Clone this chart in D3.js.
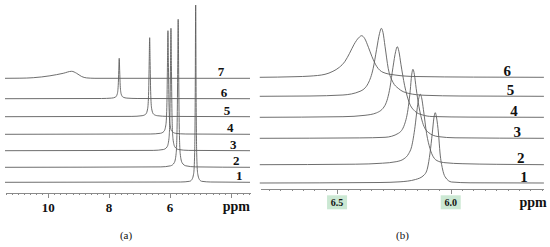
<!DOCTYPE html>
<html>
<head>
<meta charset="utf-8">
<script src="https://cdnjs.cloudflare.com/ajax/libs/d3/7.8.5/d3.min.js"></script>
<style>
body{margin:0;background:#fff;}
svg{display:block;}
.trace{fill:none;stroke:#5e5e5e;stroke-width:0.9;}
.axis path,.axis line{stroke:#8a8a8a;stroke-width:1;shape-rendering:crispEdges;}
text{font-family:"Liberation Serif","Times New Roman",Times,serif;fill:#111;}
.num{font-weight:bold;}
</style>
</head>
<body>
<div id="chart"></div>
<script>
// panel (a): [ppm, intensity a.u.], samples 1..7
var labelsA=['1','2','3','4','5','6','7'];
var offsetsA=[0,15,31.6,48,65.6,83.6,104];
var spec1A=[[11.42,0],[5.65,0.3],[5.355,1],[5.285,2.5],[5.22,9],[5.188,30],[5.17,85],[5.155,177.3],[5.14,85],[5.122,30],[5.09,9],[5.025,2.5],[4.955,1],[4.66,0.3],[3.37,0]];
var spec2A=[[11.42,0],[6.3,0.4],[5.98,1.5],[5.86,4.5],[5.796,14],[5.763,45],[5.745,100],[5.73,148],[5.715,100],[5.697,45],[5.664,14],[5.6,4.5],[5.48,1.5],[5.16,0.4],[3.37,0]];
var spec3A=[[11.42,0],[6.55,0.3],[6.217,1.2],[6.097,3.7],[6.033,12],[6.0,38],[5.982,85],[5.967,122.4],[5.952,85],[5.934,38],[5.901,12],[5.837,3.7],[5.717,1.2],[5.38,0.3],[3.37,0]];
var spec4A=[[11.42,0],[6.65,0.3],[6.316,1],[6.196,3],[6.132,10],[6.099,32],[6.081,72],[6.066,103.6],[6.051,72],[6.033,32],[6.0,10],[5.936,3],[5.816,1],[5.48,0.3],[3.37,0]];
var spec5A=[[11.42,0],[7.25,0.3],[6.917,1],[6.797,2.5],[6.733,8],[6.7,25],[6.682,55],[6.667,79],[6.652,55],[6.634,25],[6.601,8],[6.537,2.5],[6.417,1],[6.08,0.3],[3.37,0]];
var spec6A=[[11.42,0],[8.25,0.2],[7.917,0.6],[7.797,1.5],[7.733,4.5],[7.7,13],[7.682,28],[7.667,40.4],[7.652,28],[7.634,13],[7.601,4.5],[7.537,1.5],[7.417,0.6],[7.08,0.2],[3.37,0]];
var spec7A=[[11.42,0],[10.93,0.1],[10.49,0.6],[9.944,2.5],[9.507,5],[9.231,7],[9.067,5],[8.902,1.8],[8.738,0.4],[8.465,0],[3.37,0]];
var majorTicksA=[10,8,6,4];
var tickLabelsA=['10','8','6'];

// panel (b): zoom on the 5.6 - 6.8 ppm region, samples 1..6
var labelsB=['1','2','3','4','5','6'];
var offsetsB=[0,18.3,44.7,65.7,86.7,105.7];
var spec1B=[[6.84,0],[6.311,0.5],[6.223,1.2],[6.155,3.5],[6.117,8],[6.102,15],[6.091,30],[6.081,50],[6.074,65],[6.068,70.3],[6.062,65],[6.054,50],[6.047,30],[6.036,14],[6.025,6.3],[5.996,1],[5.915,0.2],[5.59,0]];
var spec2B=[[6.84,0],[6.42,0.5],[6.30,1.5],[6.24,3],[6.205,6],[6.185,11],[6.172,18],[6.157,38],[6.147,57],[6.140,67],[6.134,70.4],[6.128,67],[6.120,55],[6.106,31],[6.091,16],[6.077,8],[6.055,3.5],[6.025,2],[5.95,1],[5.80,0.4],[5.59,0]];
var spec3B=[[6.84,0],[6.40,0.4],[6.289,1],[6.230,5],[6.203,14],[6.186,32],[6.178,48],[6.172,63],[6.166,69],[6.160,64],[6.152,50],[6.140,32],[6.124,16],[6.099,6],[6.055,1.7],[5.981,0.5],[5.59,0]];
var spec4B=[[6.84,0],[6.474,0.6],[6.377,2],[6.326,4.5],[6.289,12],[6.267,30],[6.254,50],[6.242,66],[6.235,70.6],[6.228,66],[6.219,53],[6.203,32],[6.183,15],[6.157,6],[6.126,2.5],[6.082,0.8],[5.915,0.2],[5.59,0]];
var spec5B=[[6.84,0],[6.619,0.3],[6.474,1.3],[6.399,5],[6.363,13],[6.341,28],[6.326,47],[6.313,63],[6.305,68],[6.298,64],[6.289,50],[6.275,28],[6.254,14],[6.231,8],[6.187,3],[6.113,1],[5.959,0.3],[5.59,0]];
var spec6B=[[6.84,0],[6.685,0.6],[6.619,1.2],[6.553,3],[6.518,6],[6.490,10],[6.465,16],[6.445,24],[6.425,33],[6.405,39.5],[6.392,41.6],[6.379,39],[6.362,30],[6.347,21],[6.326,11],[6.298,5],[6.245,2.3],[6.157,0.8],[5.9,0.2],[5.59,0]];
var majorTicksB=[6.5,6.0];
var tickLabelsB=['6.5','6.0'];

Spectra=function(_svg,_cfg){
    this.svg=_svg;
    this.cfg=_cfg;
    this.initVis();
};

Spectra.prototype.initVis=function(){
    var vis=this, c=vis.cfg;

    vis.x=d3.scaleLinear()
        .domain(c.ppmRange)
        .range([c.left,c.right]);
    vis.y=d3.scaleLinear()
        .domain([0,180])
        .range([c.base,c.base-180]);

    vis.g=vis.svg.append('g');

    vis.line=d3.line()
        .curve(d3.curveMonotoneX);

    // traces
    c.spectra.forEach(function(s,i){
        var off=c.offsets[i];
        vis.g.append('path')
            .attr('class','trace')
            .attr('d',vis.line.x(function(d){return vis.x(d[0]);})
                              .y(function(d){return vis.y(d[1]+off);})(s));
    });

    // sample numbers on the right end of each trace
    vis.g.selectAll('.lab')
        .data(c.labels)
        .enter()
        .append('text')
        .attr('class','lab num')
        .attr('x',function(d,i){return c.labX-i*c.labStep;})
        .attr('y',function(d,i){return vis.y(c.offsets[i])-c.labLift;})
        .attr('text-anchor','middle')
        .style('font-size',c.labSize+'px')
        .text(function(d){return d;});

    // axis: minor ticks, then major ticks
    var lo=Math.min(c.ppmRange[0],c.ppmRange[1]), hi=Math.max(c.ppmRange[0],c.ppmRange[1]);
    var minor=d3.range(Math.ceil(lo/c.minorStep)*c.minorStep,hi,c.minorStep);
    vis.g.append('g')
        .attr('class','axis')
        .attr('transform','translate(0,'+c.axisY+')')
        .call(d3.axisBottom(vis.x).tickValues(minor).tickSize(2).tickSizeOuter(0).tickFormat(''));
    vis.g.append('g')
        .attr('class','axis')
        .attr('transform','translate(0,'+c.axisY+')')
        .call(d3.axisBottom(vis.x).tickValues(c.majorTicks).tickSize(5).tickSizeOuter(0).tickFormat(''))
        .select('.domain').remove();

    // highlight boxes (panel b)
    if(c.boxes){
        vis.g.selectAll('.hl')
            .data(c.tickLabels)
            .enter()
            .append('rect')
            .attr('class','hl')
            .attr('x',function(d){return vis.x(+d)-10;})
            .attr('y',c.axisY+6)
            .attr('width',20)
            .attr('height',14)
            .attr('fill','#cbe8d3');
    }

    vis.g.selectAll('.tl')
        .data(c.tickLabels)
        .enter()
        .append('text')
        .attr('class','tl num')
        .attr('x',function(d){return vis.x(+d);})
        .attr('y',c.tickLabelY)
        .attr('text-anchor','middle')
        .style('font-size',c.tickSize+'px')
        .text(function(d){return d;});

    vis.g.append('text')
        .attr('class','num')
        .attr('x',c.ppmX)
        .attr('y',c.ppmY)
        .attr('text-anchor','middle')
        .style('font-size','14px')
        .text('ppm');

    vis.g.append('text')
        .attr('x',c.capX)
        .attr('y',239)
        .attr('text-anchor','middle')
        .style('font-size','11px')
        .text(c.caption);
};

var svg=d3.select('#chart')
    .append('svg')
    .attr('width',550)
    .attr('height',247);

new Spectra(svg,{
    ppmRange:[11.42,3.37],left:5,right:250,base:182.3,axisY:192.7,
    spectra:[spec1A,spec2A,spec3A,spec4A,spec5A,spec6A,spec7A],
    offsets:offsetsA,labels:labelsA,
    labX:239.3,labStep:3.05,labLift:2,labSize:13,
    minorStep:0.2,majorTicks:majorTicksA,tickLabels:tickLabelsA,
    tickLabelY:211.7,tickSize:13,boxes:false,
    ppmX:236.3,ppmY:210.5,capX:126,caption:'(a)'
});

new Spectra(svg,{
    ppmRange:[6.839,5.594],left:260,right:543,base:183,axisY:189.3,
    spectra:[spec1B,spec2B,spec3B,spec4B,spec5B,spec6B],
    offsets:offsetsB,labels:labelsB,
    labX:524,labStep:3.35,labLift:1.5,labSize:15,
    minorStep:0.05,majorTicks:majorTicksB,tickLabels:tickLabelsB,
    tickLabelY:205.5,tickSize:10,boxes:true,
    ppmX:533,ppmY:206.5,capX:402.5,caption:'(b)'
});
</script>
</body>
</html>
